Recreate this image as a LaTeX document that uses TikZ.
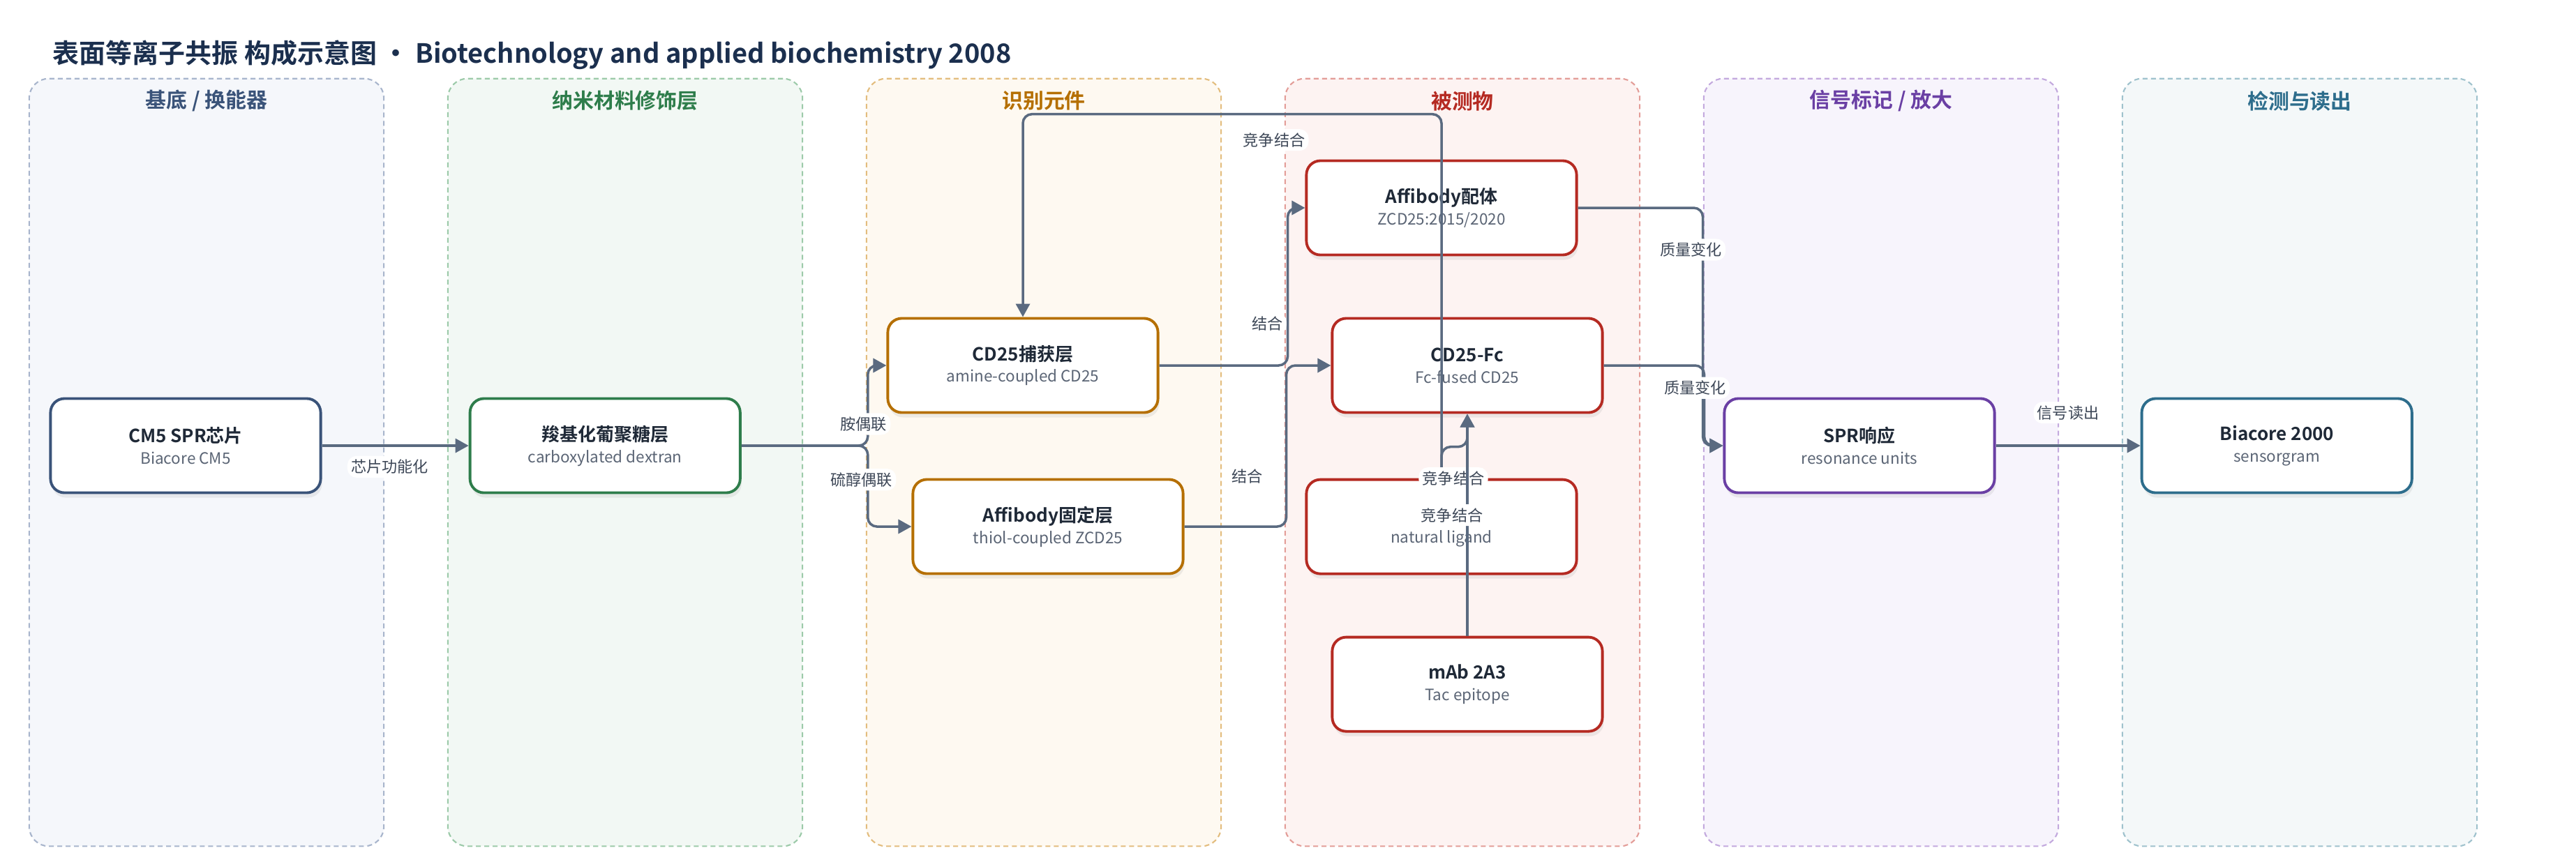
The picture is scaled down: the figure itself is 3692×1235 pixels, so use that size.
\documentclass[tikz,border=0pt]{standalone}
\usepackage{fontspec}
\setmainfont{Noto Sans CJK SC}[BoldFont={Noto Sans CJK SC Bold}]
\usepackage{xcolor}
\usetikzlibrary{positioning,arrows.meta,shadows}

\definecolor{ink}{HTML}{1F2937}
\definecolor{subink}{HTML}{5B6575}
\definecolor{heading}{HTML}{1B2F4E}
\definecolor{wire}{HTML}{5A6A80}
\definecolor{wiretext}{HTML}{3D4757}
% lane colours: fill / dashed border / title
\definecolor{subFill}{HTML}{F5F7FB}\definecolor{subLine}{HTML}{A8B5CC}\definecolor{subText}{HTML}{3A5379}
\definecolor{nanoFill}{HTML}{F2F8F4}\definecolor{nanoLine}{HTML}{9CCAA9}\definecolor{nanoText}{HTML}{2E7D4B}
\definecolor{recFill}{HTML}{FEF9F1}\definecolor{recLine}{HTML}{E3BD7E}\definecolor{recText}{HTML}{B56F00}
\definecolor{anaFill}{HTML}{FDF3F2}\definecolor{anaLine}{HTML}{E39D98}\definecolor{anaText}{HTML}{B52A22}
\definecolor{sigFill}{HTML}{F7F4FC}\definecolor{sigLine}{HTML}{C3A9DE}\definecolor{sigText}{HTML}{6A3FA4}
\definecolor{detFill}{HTML}{F4F8F9}\definecolor{detLine}{HTML}{9FC2CD}\definecolor{detText}{HTML}{2D6D8C}

\newcommand{\nodetext}[2]{{\fontsize{7.4}{8.8}\selectfont\bfseries\color{ink}#1}\\{\color{subink}#2}}

\begin{document}
\begin{tikzpicture}[
  x=0.01cm, y=-0.01cm,
  lane/.style={draw=#1Line, fill=#1Fill, dashed, dash pattern=on 0.07cm off 0.05cm,
               rounded corners=0.28cm, line width=0.6pt,
               minimum width=5.08cm, minimum height=11cm, inner sep=0pt},
  lanetitle/.style={font=\fontsize{8.5}{10}\selectfont\bfseries, text=#1Text, inner sep=0pt},
  box/.style={draw, fill=white, rounded corners=0.2cm, line width=1.1pt,
              minimum width=3.87cm, minimum height=1.35cm, align=center,
              inner sep=0pt, font=\fontsize{6.4}{8.8}\selectfont,
              drop shadow={opacity=0.13, shadow xshift=0.02cm, shadow yshift=-0.07cm}},
  unit/.style={box, draw=#1Text},
  flow/.style={-{Triangle[length=0.19cm,width=0.2cm]}, draw=wire,
               line width=1pt, rounded corners=0.13cm},
  lbl/.style={fill=white, text=wiretext, font=\fontsize{6.3}{7}\selectfont, inner sep=1.5pt},
]
\useasboundingbox (0,0) rectangle (3692,1235);
\fill[white] (0,0) rectangle (3692,1235);

% heading
\node[anchor=base west, font=\fontsize{10.8}{13}\selectfont\bfseries, text=heading, inner sep=0pt]
  (title) at (75,90) {表面等离子共振 构成示意图 · Biotechnology and applied biochemistry 2008};

% lanes
\node[lane=sub]  (lane1) at (296,663)  {};
\node[lane=nano] (lane2) at (896,663)  {};
\node[lane=rec]  (lane3) at (1496,663) {};
\node[lane=ana]  (lane4) at (2096,663) {};
\node[lane=sig]  (lane5) at (2696,663) {};
\node[lane=det]  (lane6) at (3296,663) {};

\node[lanetitle=sub]  (t1) at ([yshift=-0.33cm]lane1.north) {基底 / 换能器};
\node[lanetitle=nano] (t2) at ([yshift=-0.33cm]lane2.north) {纳米材料修饰层};
\node[lanetitle=rec]  (t3) at ([yshift=-0.33cm]lane3.north) {识别元件};
\node[lanetitle=ana]  (t4) at ([yshift=-0.33cm]lane4.north) {被测物};
\node[lanetitle=sig]  (t5) at ([yshift=-0.33cm]lane5.north) {信号标记 / 放大};
\node[lanetitle=det]  (t6) at ([yshift=-0.33cm]lane6.north) {检测与读出};

% chip and surface
\node[unit=sub] (cm5) at (266,639) {\nodetext{CM5 SPR芯片}{Biacore CM5}};
\node[unit=nano, right=2.1cm of cm5] (dex) {\nodetext{羧基化葡聚糖层}{carboxylated dextran}};

% recognition layers
\node[unit=rec] (cap) at (1466,524) {\nodetext{CD25捕获层}{amine-coupled CD25}};
\node[unit=rec] (aff) at (1502,755) {\nodetext{Affibody固定层}{thiol-coupled ZCD25}};

% analytes
\node[unit=ana] (lig) at (2066,298) {\nodetext{Affibody配体}{ZCD25:2015/2020}};
\node[unit=ana] (fc)  at (2103,524) {\nodetext{CD25-Fc}{Fc-fused CD25}};
\node[unit=ana, below=3.18cm of lig] (nat) {\nodetext{\phantom{配}}{natural ligand}};
\node[unit=ana, below=3.18cm of fc]  (mab) {\nodetext{mAb 2A3}{Tac epitope}};

% signal and readout
\node[unit=sig] (spr) at (2665,639) {\nodetext{SPR响应}{resonance units}};
\node[unit=det, right=2.07cm of spr] (bia) {\nodetext{Biacore 2000}{sensorgram}};

% coupling
\draw[flow] (cm5) -- node[lbl, below=0.13cm, xshift=-0.08cm]{芯片功能化} (dex);
\draw[flow] (dex.east) -- ++(181,0) |- node[lbl, pos=0.135, xshift=-0.06cm]{胺偶联} (cap.west);
\draw[flow] (dex.east) -- ++(181,0) |- node[lbl, pos=0.21, xshift=-0.09cm]{硫醇偶联} (aff.west);

% binding
\draw[flow] (cap.east) -- ++(184,0) |- node[lbl, pos=0.133, anchor=east]{结合} (lig.west);
\draw[flow] (aff.east) -- ++(146,0) |- node[lbl, pos=0.156, anchor=east, xshift=-0.27cm]{结合} (fc.west);

% competition
\draw[flow] (nat.north) -- ++(0,-522) -| node[lbl, pos=0.2, yshift=-0.37cm]{竞争结合} (cap.north);
\draw[flow] (nat.north) -- node[lbl, pos=0, xshift=0.17cm]{竞争结合} ++(0,-45) -| (fc.south);
\draw[flow] (mab) -- node[lbl, pos=0.544, xshift=-0.22cm]{竞争结合} (fc);

% mass change and readout
\draw[flow] (lig.east) -- ++(179,0) |- node[lbl, pos=0.088, xshift=-0.17cm]{质量变化} (spr.west);
\draw[flow] (fc.east)  -- ++(144,0) |- node[lbl, pos=0.14, xshift=-0.13cm]{质量变化} (spr.west);
\draw[flow] (spr) -- node[lbl, above=0.3cm]{信号读出} (bia);

\end{tikzpicture}
\end{document}
